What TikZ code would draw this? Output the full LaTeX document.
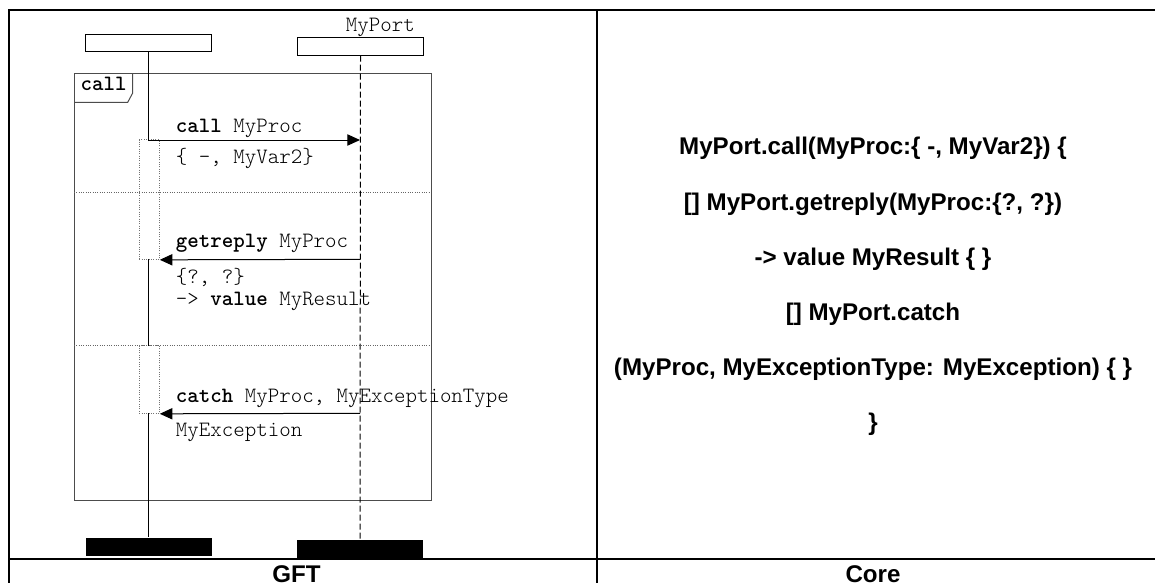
\documentclass[tikz,border=0pt]{standalone}
\usepackage{fontspec}
\setmainfont{Liberation Sans}
\newfontfamily\mono{Latin Modern Mono Light}
\usetikzlibrary{arrows.meta}
\begin{document}
\begin{tikzpicture}[x=0.75pt,y=-0.75pt,
  hdr/.style={draw, line width=0.75pt, inner sep=0, minimum width=94pt, minimum height=13pt},
  endbar/.style={fill=black, inner sep=0, minimum width=94.5pt, minimum height=13.7pt},
  act/.style={draw=black!55, densely dotted, line width=0.75pt, inner sep=0, minimum width=15pt},
  msg/.style={line width=0.75pt, -{Triangle[length=9.5pt,width=8.5pt]}},
  mtext/.style={font=\mono\fontsize{16.4pt}{19pt}\selectfont, anchor=base west, inner sep=0, text=black},
  core/.style={font=\bfseries\fontsize{18.1pt}{22pt}\selectfont, anchor=base, inner sep=0},
  divider/.style={densely dotted, draw=black!60, line width=0.75pt},
  border/.style={line width=1.5pt}]
\useasboundingbox (0,0) rectangle (1155,582);
\clip (0,0) rectangle (1155,582);
\fill[white] (0,0) rectangle (1155,582);

% table frame
\draw[border] (8.5,600) -- (8.5,10) -- (1170,10);
\draw[border] (597,10) -- (597,600);
\draw[border] (8.5,559) -- (1170,559);
\node[core] (gft) at (296.5,582) {GFT};
\node[core] (corelbl) at (873,582) {Core};

% instance heads
\node[hdr] (lh) at (148.35,43) {};
\node[hdr] (rh) at (360.5,46.5) {};
\node[mtext] (port) at (345.7,31.7) {MyPort};

% end bars
\node[endbar] (lb) at (148.7,546.85) {};
\node[endbar] (rb) at (360,548.85) {};

% call frame
\node[draw=black!70, line width=0.75pt, inner sep=0, minimum width=267.75pt, minimum height=319.9pt] (frame) at (252.5,286.75) {};
\draw[line width=0.75pt, black!70] (74,102.3) -- (127.7,102.3) -- (132.7,93) -- (132.7,73.5);
\node[mtext] (calllbl) at (80.3,90.7) {\textbf{call}};

\draw[divider] (74,192.3) -- (431,192.3);
\draw[divider] (74,345.7) -- (431,345.7);

% activation boxes
\node[act, minimum height=89.5pt] (act1) at (149.3,199.65) {};
\node[act, minimum height=50.7pt] (act2) at (149.3,379.5) {};

% lifelines
\coordinate (l1) at (148.3,140);
\coordinate (l2) at (148.3,259.3);
\coordinate (l3) at (148.3,345.7);
\coordinate (l4) at (148.3,413.3);
\draw[line width=0.75pt] (lh.south -| l1) -- (l1);
\draw[line width=0.75pt] (l2) -- (l3);
\draw[line width=0.75pt] (l4) -- (lb.north -| l4);
\draw[line width=0.75pt, dashed, dash pattern=on 4.5pt off 2.25pt] (rh.south) -- (rb.north);

% messages
\coordinate (c1) at (360,140);
\coordinate (g1) at (360,259.3);
\coordinate (k1) at (360,413.3);
\draw[msg] (l1) -- (c1);
\draw[msg] (g1) -- (act1.south east);
\draw[msg] (k1) -- (act2.south east);

% message labels
\node[mtext] (t1) at (175.7,132.7) {\textbf{call} MyProc};
\node[mtext] (t2) at (175.7,163.3) {\{ -, MyVar2\}};
\node[mtext] (t3) at (175.7,247.3) {\textbf{getreply} MyProc};
\node[mtext] (t4) at (175.7,283.3) {\{?, ?\}};
\node[mtext] (t5) at (175.7,305) {-> \textbf{value} MyResult};
\node[mtext] (t6) at (175.7,402.7) {\textbf{catch} MyProc, MyExceptionType};
\node[mtext] (t7) at (175.7,436) {MyException};

% core text
\node[core] (c1t) at (873,154) {MyPort.call(MyProc:\{ -, MyVar2\}) \{};
\node[core] (c2t) at (873,210) {[] MyPort.getreply(MyProc:\{?, ?\})};
\node[core] (c3t) at (873,265) {-> value MyResult \{ \}};
\node[core] (c4t) at (873,320) {[] MyPort.catch};
\node[core] (c5t) at (873,375) {(MyProc, MyExceptionType: MyException) \{ \}};
\node[core] (c6t) at (873,430) {\}};
\end{tikzpicture}
\end{document}
